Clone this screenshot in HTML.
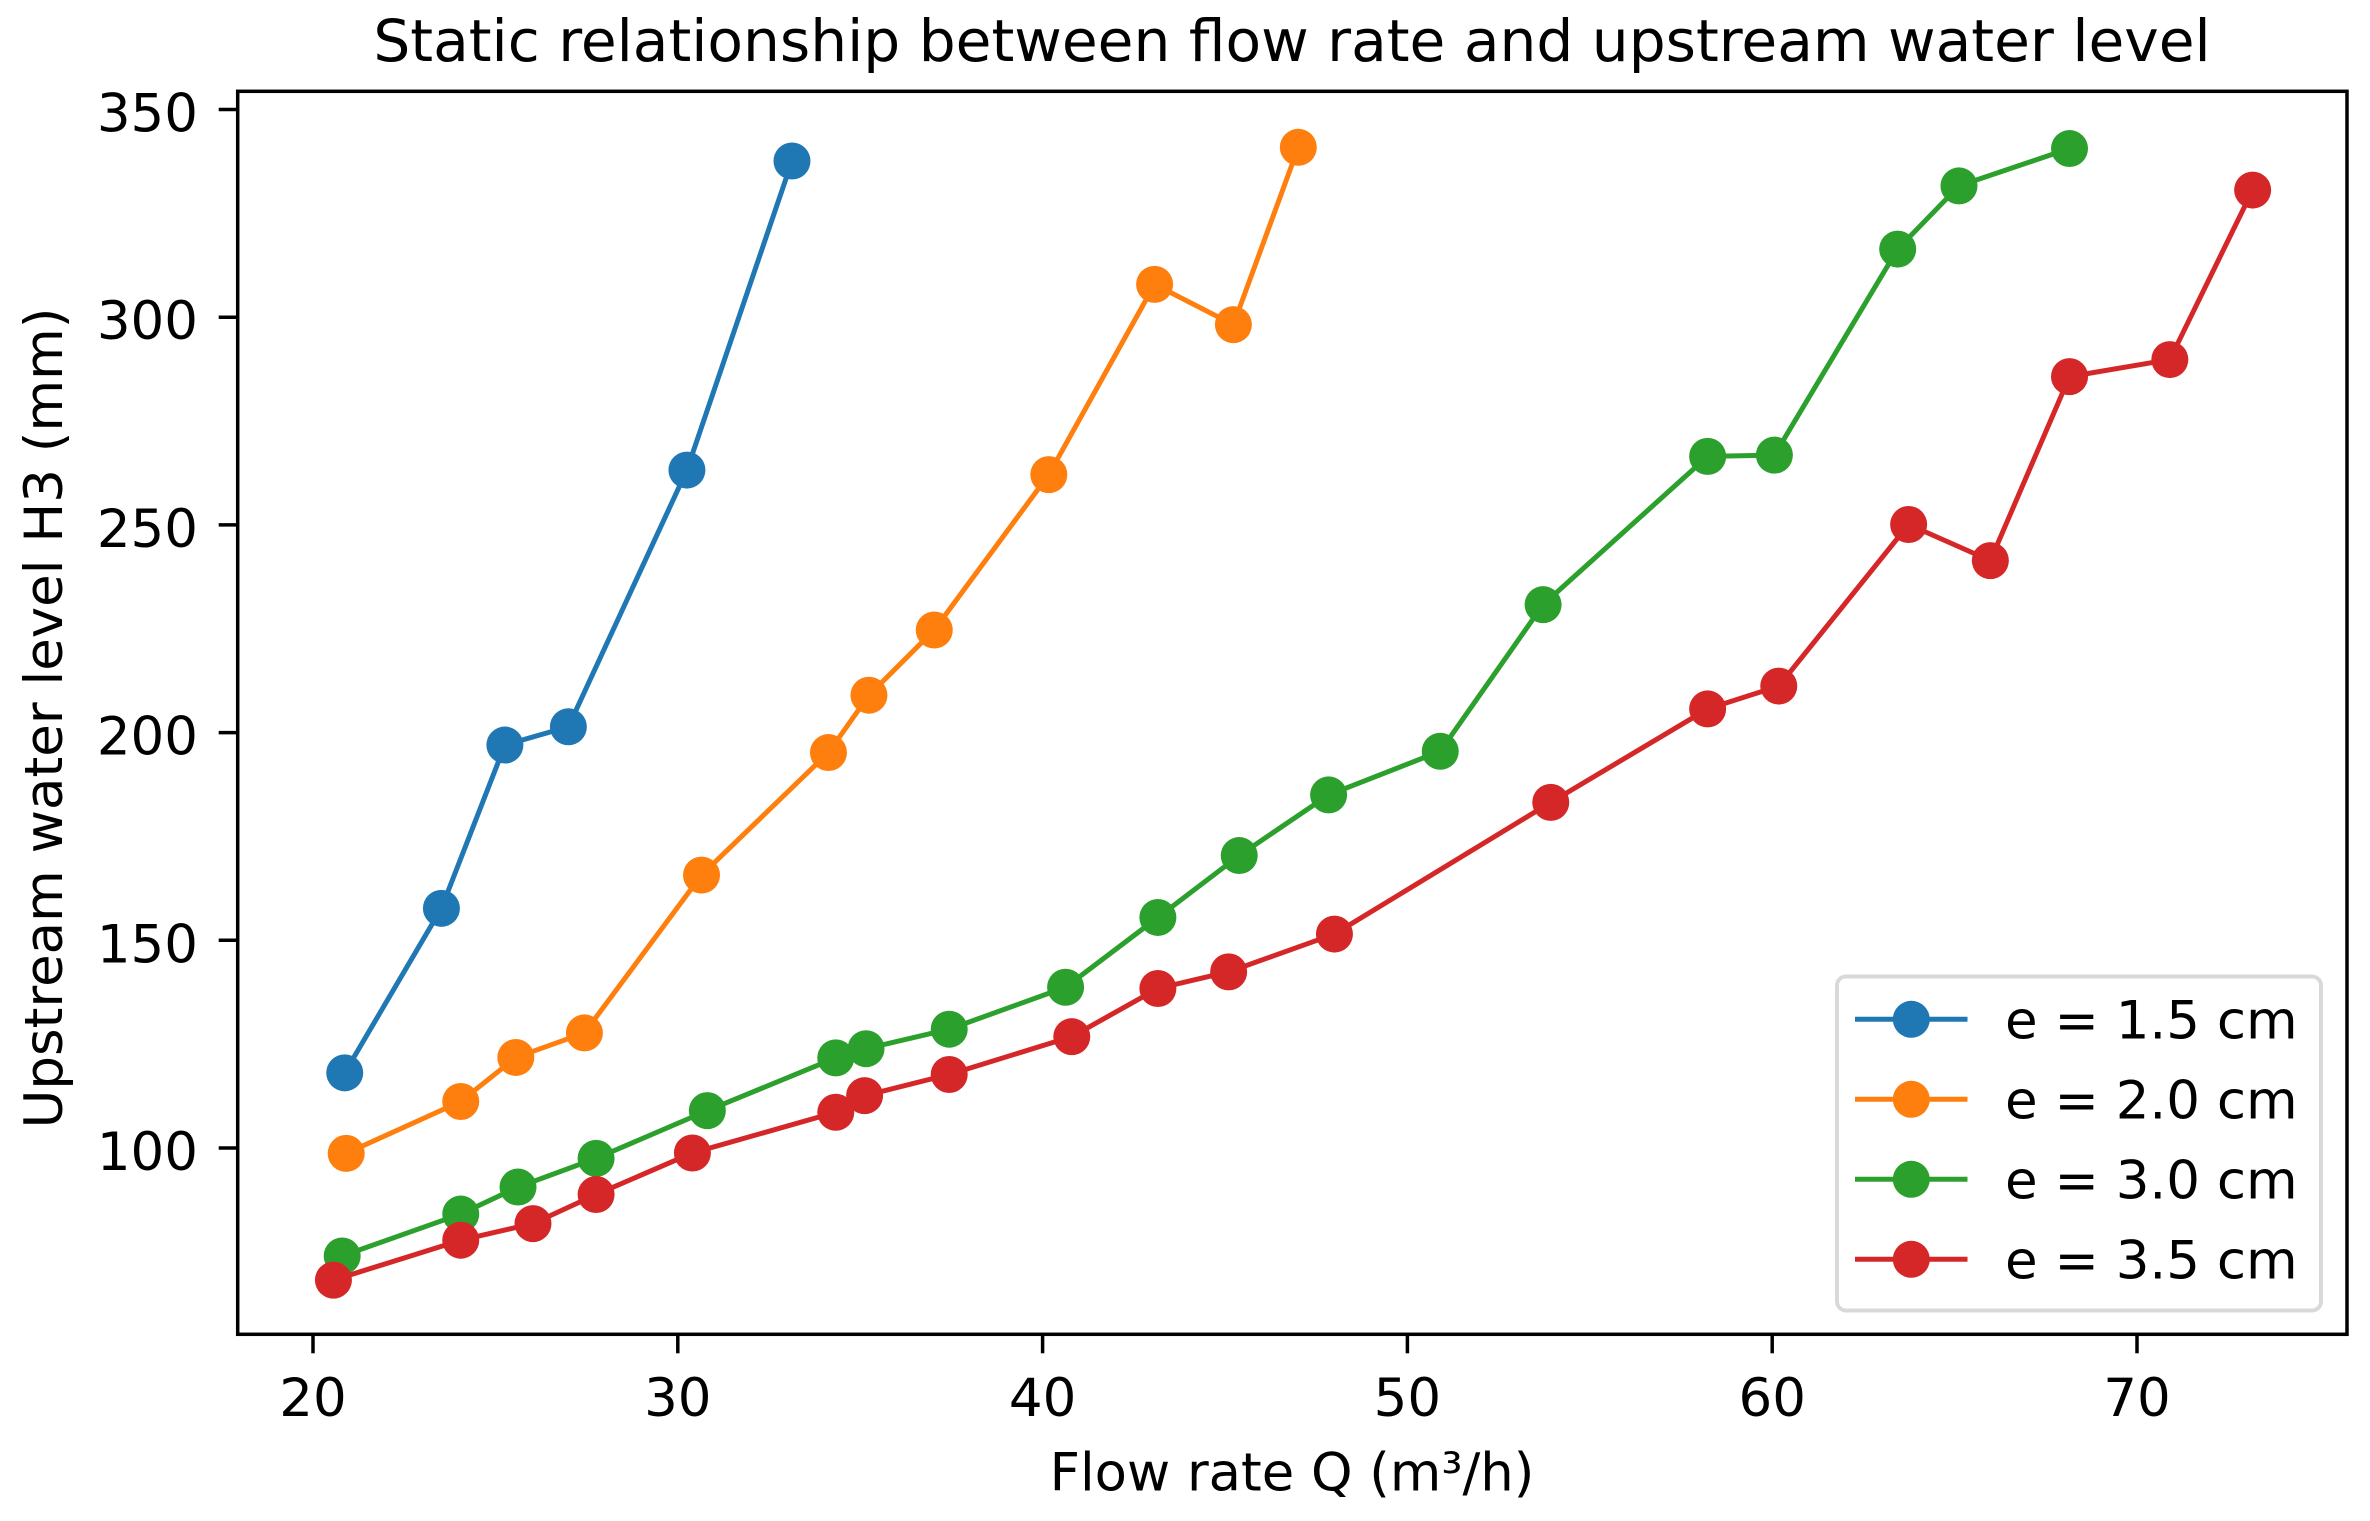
<!DOCTYPE html>
<html lang="en">
<head>
<meta charset="utf-8">
<title>Static relationship between flow rate and upstream water level</title>
<style>
html,body{margin:0;padding:0;background:#fff;}
body{width:2370px;height:1521px;overflow:hidden;}
svg{display:block;}
text{font-family:"DejaVu Sans","Liberation Sans",sans-serif;fill:#000;}
</style>
</head>
<body>
<svg id="chart" xmlns="http://www.w3.org/2000/svg" width="2370" height="1521" viewBox="0 0 2370 1521">
  <rect x="0" y="0" width="2370" height="1521" fill="#ffffff"/>
  <text x="1292" y="61" font-size="58.2" text-anchor="middle">Static relationship between flow rate and upstream water level</text>
  <text x="1292" y="1490.5" font-size="52.8" text-anchor="middle">Flow rate Q (m³/h)</text>
  <text transform="translate(62 718) rotate(-90)" font-size="53" text-anchor="middle">Upstream water level H3 (mm)</text>
</svg>
<script>
const xTickValues = [20, 30, 40, 50, 60, 70];
const yTickValues = [100, 150, 200, 250, 300, 350];

const seriesNames = ["e = 1.5 cm", "e = 2.0 cm", "e = 3.0 cm", "e = 3.5 cm"];

const flow15 = [20.87, 23.52, 25.26, 27.0, 30.25, 33.13];
const level15 = [118.1, 157.7, 197.0, 201.4, 263.2, 337.6];

const flow20 = [20.91, 24.05, 25.56, 27.44, 30.65, 34.13, 35.24, 37.03, 40.17, 43.07, 45.23, 47.01];
const level20 = [98.7, 111.2, 121.8, 127.7, 165.7, 195.2, 209.0, 224.7, 262.1, 307.9, 298.2, 340.9];

const flow30 = [20.8, 24.05, 25.62, 27.76, 30.81, 34.33, 35.16, 37.44, 40.63, 43.16, 45.39, 47.84, 50.9, 53.72, 58.23, 60.06, 63.44, 65.12, 68.15];
const level30 = [74.0, 84.1, 90.6, 97.5, 109.0, 121.7, 123.9, 128.6, 138.7, 155.5, 170.4, 185.0, 195.5, 230.8, 266.5, 266.8, 316.4, 331.6, 340.6];

const flow35 = [20.56, 24.05, 26.03, 27.76, 30.4, 34.33, 35.12, 37.44, 40.8, 43.16, 45.1, 48, 53.93, 58.23, 60.18, 63.74, 65.98, 68.15, 70.9, 73.17];
const level35 = [68.2, 77.8, 81.8, 88.8, 98.8, 108.6, 112.6, 117.7, 126.8, 138.4, 142.4, 151.5, 183.2, 205.7, 211.2, 250.1, 241.4, 285.7, 289.8, 330.6];

const seriesFlows = [flow15, flow20, flow30, flow35];
const seriesLevels = [level15, level20, level30, level35];
const seriesColors = ["#1f77b4", "#ff7f0e", "#2ca02c", "#d62728"];
const seriesKeys = ["e-1-5", "e-2-0", "e-3-0", "e-3-5"];

const SVG_NS = "http://www.w3.org/2000/svg";
const chart = document.getElementById("chart");

const plotLeft = 237.7, plotRight = 2347, plotTop = 91.3, plotBottom = 1334.3;

function xScale(v) { return 313 + (v - 20) * 36.48; }
function yScale(v) { return 109.5 + (350 - v) * 4.154; }

function make(tag, attrs, parent) {
  const el = document.createElementNS(SVG_NS, tag);
  for (const k in attrs) el.setAttribute(k, attrs[k]);
  (parent || chart).appendChild(el);
  return el;
}

const xAxisGroup = make("g", {});


xTickValues.forEach(function (t) {
  const line = make("line", { x1: xScale(t), x2: xScale(t), y1: plotBottom, y2: plotBottom + 19, stroke: "#000", "stroke-width": 3.5 }, xAxisGroup);
  
  
  const label = make("text", { x: xScale(t), y: 1416, "font-size": 53, "text-anchor": "middle" }, xAxisGroup);
  label.textContent = String(t);
  
  
});

const yAxisGroup = make("g", {});


yTickValues.forEach(function (t) {
  const line = make("line", { x1: plotLeft - 19, x2: plotLeft, y1: yScale(t), y2: yScale(t), stroke: "#000", "stroke-width": 3.5 }, yAxisGroup);
  
  
  const label = make("text", { x: 198, y: yScale(t) + 22, "font-size": 53, "text-anchor": "end" }, yAxisGroup);
  label.textContent = String(t);
  
  
});

seriesFlows.forEach(function (flows, s) {
  const group = make("g", {});
  
  
  const pts = flows.map(function (f, i) { return xScale(f).toFixed(2) + "," + yScale(seriesLevels[s][i]).toFixed(2); }).join(" ");
  const poly = make("polyline", { points: pts, fill: "none", stroke: seriesColors[s], "stroke-width": 5, "stroke-linejoin": "round" }, group);
  
  
  flows.forEach(function (f, i) {
    const dot = make("circle", { cx: xScale(f), cy: yScale(seriesLevels[s][i]), r: 18.5, fill: seriesColors[s] }, group);
    
    
  });
});

const frame = make("rect", { x: plotLeft, y: plotTop, width: plotRight - plotLeft, height: plotBottom - plotTop, fill: "none", stroke: "#000", "stroke-width": 3.5 });



const legend = make("g", {});


const legendBox = make("rect", { x: 1837, y: 976.5, width: 484, height: 334, rx: 9, ry: 9, fill: "#fff", stroke: "#d9d9d9", "stroke-width": 4 }, legend);


seriesNames.forEach(function (name, i) {
  const cy = 1019.3 + i * 80;
  const entry = make("g", {}, legend);
  
  
  const keyLine = make("line", { x1: 1855, x2: 1967.5, y1: cy, y2: cy, stroke: seriesColors[i], "stroke-width": 5 }, entry);
  
  
  const keyDot = make("circle", { cx: 1911.3, cy: cy, r: 18.5, fill: seriesColors[i] }, entry);
  
  
  const label = make("text", { x: 2005, y: cy + 19.3, "font-size": 53 }, entry);
  label.textContent = name;
  
  
});
</script>
</body>
</html>
